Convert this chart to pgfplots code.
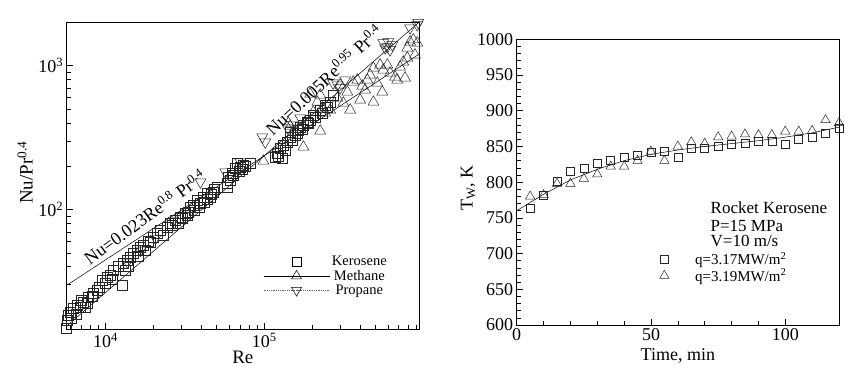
\documentclass[border=0pt]{standalone}
\usepackage{fontspec}
\setmainfont{Liberation Serif}
\usepackage{pgfplots}
\pgfplotsset{compat=1.18}

\pgfplotstableread{
x y
5700 14.9
5770 16.9
5850 18.4
6025 19.3
6100 17.5
6300 20.6
6500 18.6
6670 21.5
6960 20.9
7000 23.5
7270 22.6
7500 21.0
7700 22.2
7810 24.5
8280 24.9
8400 26.1
8900 27.4
9200 29.0
9570 32.2
10000 30.6
10300 33.7
10750 34.9
11000 33.0
11230 37.8
12000 40.0
12790 29.7
12980 42.3
13360 37.8
13750 44.3
14000 40.0
14360 46.6
15000 49.6
15900 52.0
16000 47.0
16600 54.6
17350 56.4
17850 52.0
18500 60.0
19190 59.1
20060 64.1
21230 68.4
22180 71.7
23000 66.0
24530 75.3
25500 80.0
26360 77.7
27550 84.2
28500 80.0
29620 88.3
30500 87.0
31840 94.2
32760 91.0
33200 96.0
34230 104
35750 107
36000 98
37900 116
39000 104
39560 111
41350 122
42000 112
43800 130
44000 118
45720 122
46500 127
47770 132
48500 138
50600 143
58600 152
58600 143
59500 168
61000 160
62850 179
64000 172
65640 194
67600 210
69000 185
70570 197
72500 190
73700 203
76000 200
81550 210
117100 231
120600 247
122000 236
125900 267
129800 227
131800 280
135000 260
140100 294
145500 319
145500 345
150000 305
156400 329
160000 340
163700 357
168100 374
172000 362
176300 387
185600 406
190000 395
194300 419
203300 454
210000 440
224500 492
230000 470
241400 533
248400 514
260000 560
270500 625
}\kerosene

\pgfplotstableread{
x y
98600 217
141600 399
145500 380
176000 272
194300 635
203300 477
215300 558
224500 625
224500 351
231700 508
241400 469
259500 492
287800 596
299900 734
314000 550
332600 656
346600 492
362800 769
384700 795
400500 577
413000 722
430600 677
444600 795
462900 861
485300 964
485300 558
514000 757
534900 1011
552000 656
560000 933
594000 1011
618200 889
664500 834
685500 795
714400 979
748000 1061
768000 821
793000 1131
793000 1327
825600 1462
865000 1511
887500 1187
916000 1439
}\methane

\pgfplotstableread{
x y
13750 43.0
16600 52.0
20630 63.1
26800 84.2
39560 155
56800 182
70570 214
97000 319
101300 294
140100 368
152000 387
168100 433
270500 757
287800 734
299900 700
322400 795
560000 1439
575000 1327
594000 1349
602000 1462
618200 1286
638000 1394
825600 1827
916000 1920
930000 1990
}\propane

\pgfplotstableread{
x y
5 764
10 782
15 801
20 815
25 819
30 827
35 831
40 835
45 837
50 842
55 843
60 835
65 847
70 847
75 850
80 853
85 855
90 857
95 857
100 853
105 860
110 863
115 869
120 876
}\sqdata

\pgfplotstableread{
x y
5 780
10 782
15 798
20 798
25 805
30 811
35 822
40 822
45 830
50 843
55 830
60 850
65 856
70 854
75 863
80 864
85 867
90 866
95 866
100 871
105 871
110 872
115 887
120 883
}\tridata

\pgfplotstableread{
x y
0 760
10 783
20 803
30 818
40 830
50 839
60 845
70 850
80 854
90 858
100 863
110 869
120 877
}\fitdata

\begin{document}
\begin{tikzpicture}[x=1pt,y=1pt]
\useasboundingbox (0,0) rectangle (858,377);
\begin{axis}[
  at={(66.7pt,47.7pt)}, anchor=south west,
  scale only axis, width=352.3pt, height=307pt,
  xmode=log, ymode=log,
  xmin=5700, xmax=9.4e5, ymin=14.7, ymax=2000,
  xtick={1e4,1e5}, xticklabels={10\textsuperscript{4},10\textsuperscript{5}},
  ytick={1e2,1e3}, yticklabels={10\textsuperscript{2},10\textsuperscript{3}},
  minor xtick={6000,7000,8000,9000,20000,30000,40000,50000,60000,70000,80000,90000,200000,300000,400000,500000,600000,700000,800000,900000},
  minor ytick={20,30,40,50,60,70,80,90,200,300,400,500,600,700,800,900},
  tick align=inside, xtick pos=left, ytick pos=left,
  major tick length=6pt, minor tick length=4pt,
  tick style={black, line width=0.5pt},
  axis line style={line width=0.8pt},
  tick label style={font=\fontsize{18}{20}\selectfont},
  xlabel={Re}, ylabel={Nu/Pr\textsuperscript{0.4}},
  label style={font=\fontsize{19}{21}\selectfont},
  x label style={at={(axis description cs:0.5,-0.09)}, anchor=center},
  y label style={at={(axis description cs:-0.118,0.51)}, anchor=center},
  legend style={at={(rel axis cs:0.557,0.245)}, anchor=north west, draw=none, fill=none,
    font=\fontsize{14.5}{16}\selectfont, inner sep=0pt, row sep=-1pt},
  legend image code/.code={\draw[mark repeat=2,mark phase=2] plot coordinates {(0pt,0pt) (33pt,0pt) (66pt,0pt)};},
  clip=true,
]
\addplot[black, line width=0.5pt, forget plot] coordinates {(5700,29.7) (9.4e5,1200)};
\addplot[black, line width=0.5pt, forget plot] coordinates {(5700,15.5) (9.4e5,2000)};
\addplot[only marks, mark=square, mark size=5pt, black!85, mark options={line width=0.5pt}, forget plot] table {\kerosene};
\addplot[only marks, mark=triangle, mark size=6.3pt, black!85, mark options={line width=0.5pt}, forget plot] table {\methane};
\addplot[only marks, mark=triangle, mark size=6.3pt, black!85, mark options={line width=0.5pt, rotate=180}, forget plot] table {\propane};
\addlegendimage{only marks, mark=square, mark size=4.5pt, black, mark options={line width=0.5pt}}
\addlegendentry{Kerosene}
\addlegendimage{black, line width=0.6pt, mark=triangle, mark size=5.8pt, mark options={line width=0.5pt}}
\addlegendentry{Methane}
\addlegendimage{black!60, densely dotted, line width=0.8pt, mark=triangle, mark size=5.8pt, mark options={solid, black, line width=0.5pt, rotate=180}}
\addlegendentry{Propane}
\node[rotate=36, font=\fontsize{18}{20}\selectfont] at (axis cs:17600,89) {Nu=0.023Re\textsuperscript{0.8} Pr\textsuperscript{0.4}};
\node[rotate=43, font=\fontsize{18}{20}\selectfont] at (axis cs:236000,800) {Nu=0.005Re\textsuperscript{0.95} Pr\textsuperscript{0.4}};
\end{axis}

\begin{axis}[
  at={(516.7pt,52pt)}, anchor=south west,
  scale only axis, width=322.3pt, height=285.7pt,
  xmin=0, xmax=120, ymin=600, ymax=1000,
  xtick={0,50,100}, ytick={600,650,...,1000},
  minor tick num=4,
  tick align=inside, xtick pos=left, ytick pos=left,
  major tick length=6pt, minor tick length=4pt,
  tick style={black, line width=0.5pt},
  axis line style={line width=0.8pt},
  /pgf/number format/assume math mode=true,
  /pgf/number format/1000 sep={},
  tick label style={font=\fontsize{18}{20}\selectfont},
  xlabel={Time, min}, ylabel={T\textsubscript{W}, K},
  label style={font=\fontsize{18}{20}\selectfont},
  x label style={at={(axis description cs:0.5,-0.108)}, anchor=center},
  y label style={at={(axis description cs:-0.151,0.48)}, anchor=center},
  legend style={at={(rel axis cs:0.443,0.2625)}, anchor=north west, draw=none, fill=none,
    font=\fontsize{15}{17}\selectfont, inner sep=0pt, row sep=-1pt},
]
\addplot[black, line width=0.5pt, forget plot] table {\fitdata};
\addplot[only marks, mark=square, mark size=4pt, black!85, mark options={line width=0.5pt}] table {\sqdata};
\addlegendentry{\hspace*{24pt}q=3.17MW/m\textsuperscript{2}}
\addplot[only marks, mark=triangle, mark size=5.4pt, black!85, mark options={line width=0.5pt}] table {\tridata};
\addlegendentry{\hspace*{24pt}q=3.19MW/m\textsuperscript{2}}
\node[anchor=west, font=\fontsize{17}{19}\selectfont] at (axis cs:70.9,764) {Rocket Kerosene};
\node[anchor=west, font=\fontsize{17}{19}\selectfont] at (axis cs:70.9,739) {P=15 MPa};
\node[anchor=west, font=\fontsize{17}{19}\selectfont] at (axis cs:70.9,717.5) {V=10 m/s};
\end{axis}
\end{tikzpicture}
\end{document}
